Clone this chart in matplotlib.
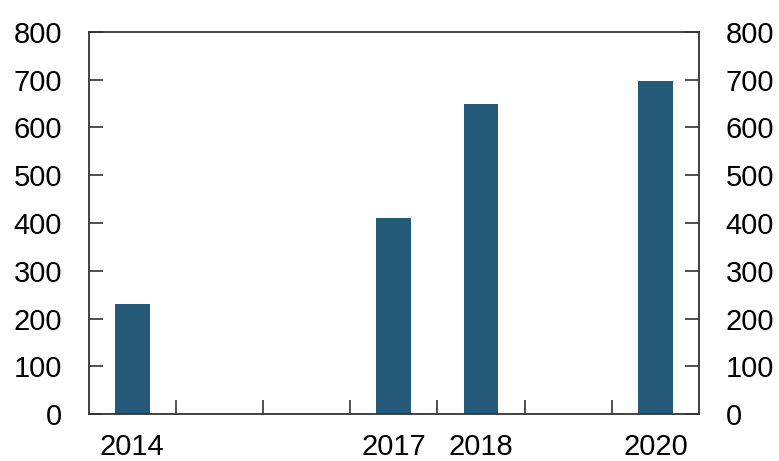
import matplotlib
matplotlib.use("Agg")
import matplotlib.pyplot as plt
import numpy as np

years = ["2014", "2015", "2016", "2017", "2018", "2019", "2020"]
values = [230, 0, 0, 410, 650, 0, 697]
shown_labels = ["2014", "", "", "2017", "2018", "", "2020"]
yticks = [0, 100, 200, 300, 400, 500, 600, 700, 800]

plt.rcParams['font.family'] = ['Liberation Sans', 'DejaVu Sans']

W, H = 779, 461
fig = plt.figure(figsize=(W/100, H/100), dpi=100)
ax = fig.add_axes([88.5/W, (H-414)/H, (699-88.5)/W, (414-32)/H])

x = np.arange(len(years))
ax.bar(x, values, width=0.4, color="#245A78", zorder=2)

ax.set_xlim(-0.5, len(years)-0.5)
ax.set_ylim(0, 800)

spine_col = "#333333"
for s in ax.spines.values():
    s.set_color(spine_col)
    s.set_linewidth(1.3)

ax.set_yticks(yticks)
ax.set_yticklabels([str(v) for v in yticks])
ax.tick_params(axis='y', which='both', direction='in', length=10, width=1.2,
               color=spine_col, labelsize=21, pad=19, left=True, right=True,
               labelleft=True, labelright=True)

# x: boundary tick marks (minor) and labels at centres (major, no marks)
ax.set_xticks(x)
ax.set_xticklabels(shown_labels)
ax.set_xticks(np.arange(0.5, len(years)-1, 1.0), minor=True)
ax.tick_params(axis='x', which='major', length=0, labelsize=21, pad=14)
ax.tick_params(axis='x', which='minor', direction='in', length=10, width=1.2,
               color=spine_col)

fig.savefig("out.png", dpi=100)
